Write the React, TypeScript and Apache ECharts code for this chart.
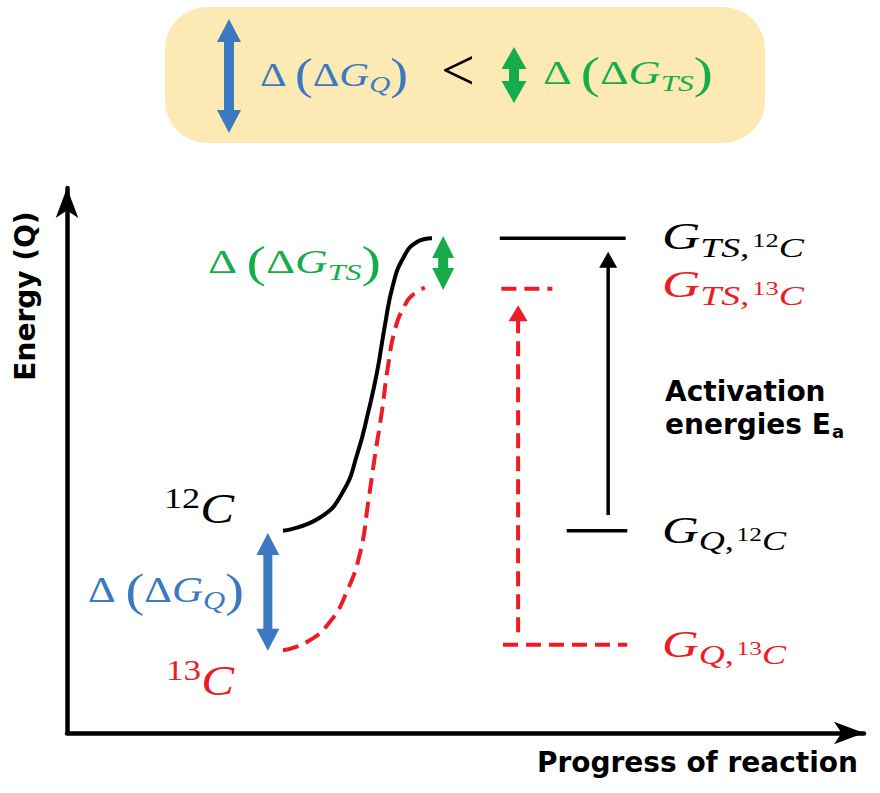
import React, { useEffect, useRef } from "react";
import * as echarts from "echarts";

// ---------------- data (progress 0..100, energy 0..100) ----------------
const curve12C = [
  [27.1, 37.1], [31.7, 39.5], [34.6, 44.2], [36.5, 51.6], [37.8, 58.9], [38.9, 66.2],
  [39.9, 74.9], [40.9, 82.2], [42.2, 87.2], [43.9, 90.1], [45.8, 90.8],
];
const curve13C = [
  [27.1, 15.2], [30.1, 16.7], [33.0, 20.4], [35.1, 25.9], [36.8, 33.2], [37.8, 42.4],
  [38.6, 50.5], [39.5, 58.9], [40.3, 67.5], [41.2, 74.3], [42.4, 78.5], [43.4, 80.4], [44.9, 81.7],
];
const levelKeys = ["G_TS_12C", "G_TS_13C", "G_Q_12C", "G_Q_13C"];
const levelEnergy = [90.8, 81.5, 37.1, 16.2];
const levelFrom = [54.3, 54.5, 62.7, 54.7];
const levelTo = [70.1, 60.9, 70.3, 70.3];
const activationX = [67.9, 56.6];
const activationFrom = [40.0, 18.5];
const activationTo = [88.3, 78.5];
const deltaX = [47.2, 25.2];
const deltaLow = [81.3, 15.1];
const deltaHigh = [91.2, 36.7];

// ---------------- styles ----------------
const BLACK = "#000000";
const RED = "#ed1c24";
const BLUE = "#3b79c0";
const GREEN = "#15ad4b";
const BOX = "#fce9b4";
const MATH = '"Liberation Serif", "Times New Roman", serif';
const SANS = '"DejaVu Sans", sans-serif';

const levelColor = [BLACK, RED, BLACK, RED];
const levelDash: any[] = ["solid", [15, 8], "solid", [15, 8]];
const activationStyle = [
  { color: BLACK, width: 3.5, headW: 18, headL: 16, dash: null },
  { color: RED, width: 4, headW: 19, headL: 16, dash: [15, 8] },
];
const deltaStyle = [
  { color: GREEN, width: 10, headW: 22, headL: 22 },
  { color: BLUE, width: 9, headW: 23, headL: 22 },
];

function doubleArrow(cx: number, top: number, bottom: number, hw: number, hl: number, sw: number) {
  return [
    [cx, top], [cx + hw / 2, top + hl], [cx + sw / 2, top + hl], [cx + sw / 2, bottom - hl],
    [cx + hw / 2, bottom - hl], [cx, bottom], [cx - hw / 2, bottom - hl], [cx - sw / 2, bottom - hl],
    [cx - sw / 2, top + hl], [cx - hw / 2, top + hl],
  ];
}

function mathRich(size: number, color: string, supSize?: number) {
  const sub = Math.round(size * 0.7);
  const ss = Math.round(size * 0.5);
  const lh = Math.round(size * 1.8);
  const f = (st: string, px: number) => `${st} ${px}px ${MATH}`;
  return {
    D: { font: f("normal", size), fill: color, lineHeight: lh },
    DS: { font: f("normal", size), fill: color, lineHeight: lh, padding: [0, Math.round(size * 0.22), 0, 0] },
    P: { font: f("normal", Math.round(size * 1.3)), fill: color, lineHeight: lh },
    G: { font: f("italic", size), fill: color, lineHeight: lh },
    s: { font: f("italic", sub), fill: color, lineHeight: lh, padding: [Math.round(size * 0.6), 0, 0, 0] },
    sc: { font: f("normal", sub), fill: color, lineHeight: lh, padding: [Math.round(size * 0.6), Math.round(size * 0.06), 0, 0] },
    ss: { font: f("normal", ss), fill: color, lineHeight: lh, padding: [Math.round(size * 0.24), 0, 0, 0] },
    sup: { font: f("normal", supSize || sub), fill: color, lineHeight: lh, padding: [0, 0, Math.round(size * 0.55), 0] },
  };
}

function mathLabel(text: string, size: number, color: string, left: number, right: number, cy: number, supSize?: number) {
  const rich = mathRich(size, color, supSize);
  const probe = new (echarts.graphic as any).Text({ style: { text, rich, font: rich.G.font } });
  const w = probe.getBoundingRect().width || right - left;
  return {
    type: "text",
    x: left,
    y: cy,
    scaleX: (right - left) / w,
    silent: true,
    style: { text, rich, font: rich.G.font, fill: color, align: "left", verticalAlign: "middle" },
  };
}

function arrowRenderer(styles: any[], double: boolean) {
  return (params: any, api: any) => {
    const st = styles[params.dataIndex];
    const low = api.coord([api.value(0), api.value(1)]);
    const high = api.coord([api.value(0), api.value(2)]);
    const cx = low[0];
    const top = high[1];
    const bottom = low[1];
    if (double) {
      return {
        type: "polygon",
        shape: { points: doubleArrow(cx, top, bottom, st.headW, st.headL, st.width) },
        style: { fill: st.color },
      };
    }
    return {
      type: "group",
      children: [
        {
          type: "line",
          shape: { x1: cx, y1: bottom, x2: cx, y2: top + st.headL - 1 },
          style: { stroke: st.color, lineWidth: st.width, lineDash: st.dash, fill: null },
        },
        {
          type: "polygon",
          shape: { points: [[cx, top], [cx + st.headW / 2, top + st.headL], [cx - st.headW / 2, top + st.headL]] },
          style: { fill: st.color },
        },
      ],
    };
  };
}

export default function App() {
  const ref = useRef<HTMLDivElement>(null);
  useEffect(() => {
    document.body.style.margin = "0";
    const chart = echarts.init(ref.current!, null, { renderer: "svg" });
    const axisCommon = {
      type: "value",
      min: 0,
      max: 100,
      axisTick: { show: false },
      axisLabel: { show: false },
      splitLine: { show: false },
      axisLine: {
        show: true,
        onZero: false,
        symbol: ["none", "arrow"],
        symbolSize: [17, 30],
        lineStyle: { color: BLACK, width: 4.5 },
      },
    };
    const option: any = {
      animation: false,
      backgroundColor: "#ffffff",
      grid: { left: 67, right: 16, top: 188, bottom: 60, containLabel: false },
      xAxis: axisCommon,
      yAxis: axisCommon,
      series: [
        {
          type: "line",
          name: "12C",
          data: curve12C,
          smooth: 0.5,
          symbol: "none",
          silent: true,
          z: 3,
          lineStyle: { color: BLACK, width: 4 },
        },
        {
          type: "line",
          name: "13C",
          data: curve13C,
          smooth: 0.5,
          symbol: "none",
          silent: true,
          z: 3,
          lineStyle: { color: RED, width: 4, type: [16, 8] },
        },
        ...levelKeys.map((k, i) => ({
          type: "line",
          name: k,
          data: [[levelFrom[i], levelEnergy[i]], [levelTo[i], levelEnergy[i]]],
          symbol: "none",
          silent: true,
          z: 3,
          lineStyle: { color: levelColor[i], width: i % 2 ? 4 : 3.5, type: levelDash[i] },
        })),
        {
          type: "custom",
          name: "activation",
          data: activationX.map((x, i) => [x, activationFrom[i], activationTo[i]]),
          encode: { x: 0, y: [1, 2] },
          renderItem: arrowRenderer(activationStyle, false),
          silent: true,
          clip: false,
          z: 4,
        },
        {
          type: "custom",
          name: "delta",
          data: deltaX.map((x, i) => [x, deltaLow[i], deltaHigh[i]]),
          encode: { x: 0, y: [1, 2] },
          renderItem: arrowRenderer(deltaStyle, true),
          silent: true,
          clip: false,
          z: 4,
        },
      ],
      graphic: [
        { type: "rect", silent: true, shape: { x: 165, y: 7, width: 600, height: 136, r: 42 }, style: { fill: BOX } },
        { type: "polygon", silent: true, shape: { points: doubleArrow(229, 19, 133, 24, 23, 10) }, style: { fill: BLUE } },
        { type: "polygon", silent: true, shape: { points: doubleArrow(514, 47, 103, 25, 22, 10) }, style: { fill: GREEN } },
        mathLabel("{DS|Δ}{P|(}{D|Δ}{G|G}{s|Q}{P|)}", 34, BLUE, 260, 408, 74),
        {
          type: "text",
          x: 441,
          y: 70,
          silent: true,
          style: { text: "<", font: `normal 60px ${MATH}`, fill: BLACK, align: "left", verticalAlign: "middle" },
        },
        mathLabel("{DS|Δ}{P|(}{D|Δ}{G|G}{s|TS}{P|)}", 34, GREEN, 543, 713, 73),
        mathLabel("{DS|Δ}{P|(}{D|Δ}{G|G}{s|TS}{P|)}", 34, GREEN, 208, 381, 262),
        mathLabel("{DS|Δ}{P|(}{D|Δ}{G|G}{s|Q}{P|)}", 35, BLUE, 88, 244, 590),
        mathLabel("{sup|12}{G|C}", 42, BLACK, 164, 234, 509, 30),
        mathLabel("{sup|13}{G|C}", 42, RED, 166, 234, 681, 30),
        mathLabel("{G|G}{s|TS}{sc|,}{ss|12}{s|C}", 38, BLACK, 662, 804, 236),
        mathLabel("{G|G}{s|TS}{sc|,}{ss|13}{s|C}", 38, RED, 662, 804, 284),
        mathLabel("{G|G}{s|Q}{sc|,}{ss|12}{s|C}", 38, BLACK, 662, 786, 530),
        mathLabel("{G|G}{s|Q}{sc|,}{ss|13}{s|C}", 38, RED, 662, 786, 644),
        {
          type: "text",
          x: 665,
          y: 408,
          silent: true,
          style: {
            text: "{b|Activation}\n{b|energies E}{a|a}",
            rich: {
              b: { font: `bold 28px ${SANS}`, fill: BLACK, lineHeight: 33 },
              a: { font: `bold 18px ${SANS}`, fill: BLACK, lineHeight: 33, padding: [14, 0, 0, 1] },
            },
            font: `bold 28px ${SANS}`,
            fill: BLACK,
            align: "left",
            verticalAlign: "middle",
          },
        },
        {
          type: "text",
          x: 25,
          y: 296,
          rotation: Math.PI / 2,
          silent: true,
          style: { text: "Energy (Q)", font: `bold 28px ${SANS}`, fill: BLACK, align: "center", verticalAlign: "middle" },
        },
        {
          type: "text",
          x: 858,
          y: 762,
          silent: true,
          style: { text: "Progress of reaction", font: `bold 28px ${SANS}`, fill: BLACK, align: "right", verticalAlign: "middle" },
        },
      ],
    };
    chart.setOption(option);
    return () => chart.dispose();
  }, []);
  return <div ref={ref} style={{ width: 880, height: 793, display: "block" }} />;
}
